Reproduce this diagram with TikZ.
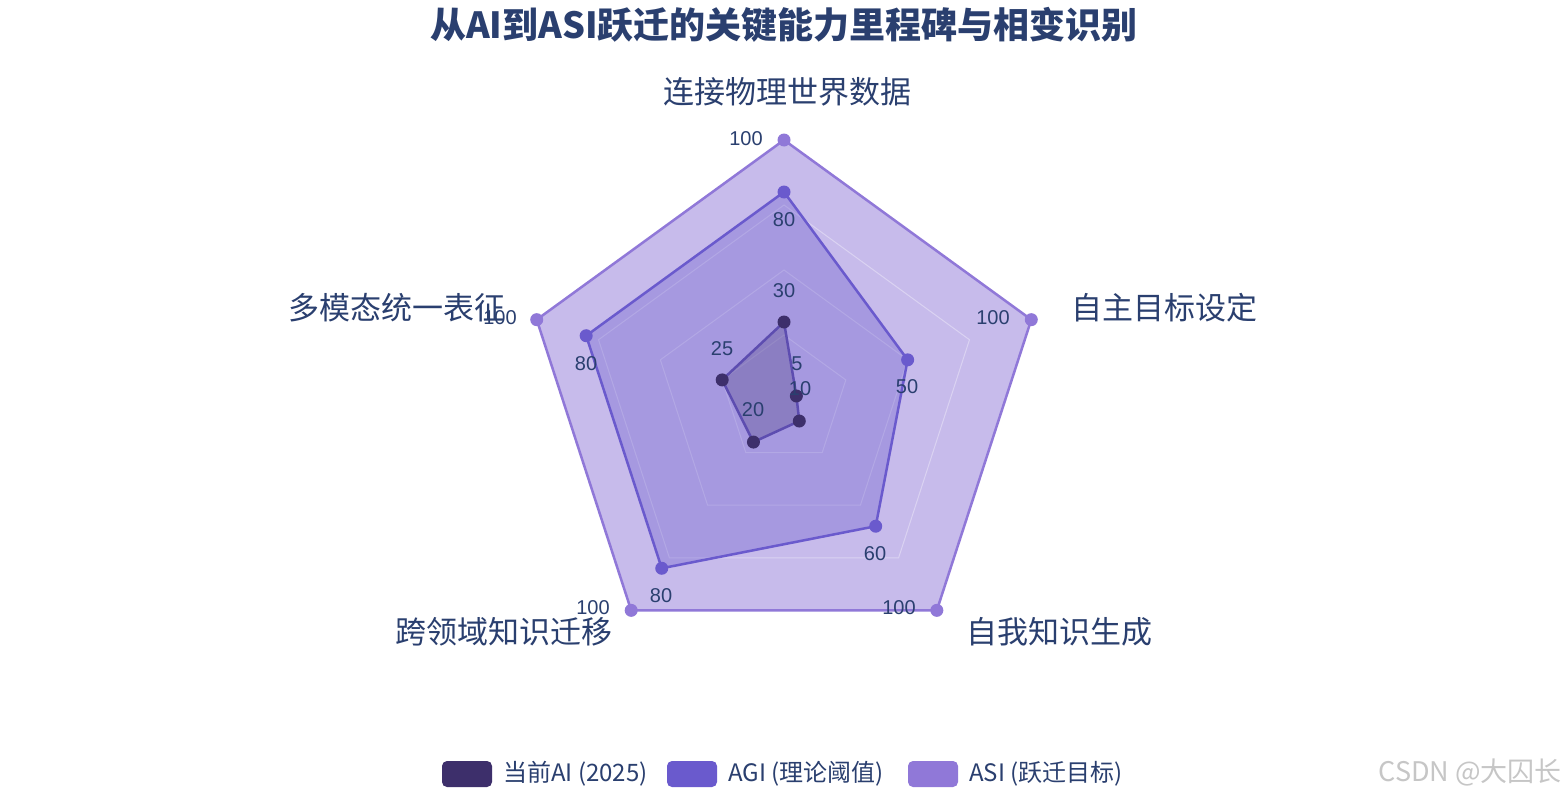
\documentclass[tikz,border=0pt]{standalone}
\usetikzlibrary{calc}
\usepackage{fontspec}
\setmainfont{Liberation Sans}
\newfontfamily\cjk{Noto Sans CJK SC}
\begin{document}
\begin{tikzpicture}[x=1pt,y=1pt]
\definecolor{tc}{HTML}{2A3F6F}
\definecolor{cai}{HTML}{3D2F6B}
\definecolor{cagi}{HTML}{6A5ACD}
\definecolor{casi}{HTML}{9078D8}
\tikzset{num/.style={font=\fontsize{20}{22}\selectfont,text=tc,inner sep=0pt},
ax/.style={font=\cjk\fontsize{31}{34}\selectfont,text=tc,inner sep=0pt},
dot/.style={circle,inner sep=0pt,minimum size=13pt}}
\path[use as bounding box,fill=white](0,0) rectangle (1568,-800);
\coordinate (c) at (784,-400);
\def\R{260}
% ASI
\path[fill=casi,fill opacity=0.5,draw=casi,line width=2.5pt,draw opacity=1]
 ($(c)+(90:\R)$) coordinate(s0) -- ($(c)+(18:\R)$) coordinate(s1) -- ($(c)+(-54:\R)$) coordinate(s2) -- ($(c)+(-126:\R)$) coordinate(s3) -- ($(c)+(162:\R)$) coordinate(s4) -- cycle;
% grid
\foreach \f in {0.25,0.5,0.75}{
 \draw[white,opacity=0.35,line width=1pt] ($(c)+(90:\f*\R)$)--($(c)+(18:\f*\R)$)--($(c)+(-54:\f*\R)$)--($(c)+(-126:\f*\R)$)--($(c)+(162:\f*\R)$)--cycle;}
% AGI
\path[fill=cagi,fill opacity=0.35,draw=cagi,line width=2.5pt,draw opacity=1]
 ($(c)+(90:0.8*\R)$) coordinate(g0) -- ($(c)+(18:0.5*\R)$) coordinate(g1) -- ($(c)+(-54:0.6*\R)$) coordinate(g2) -- ($(c)+(-126:0.8*\R)$) coordinate(g3) -- ($(c)+(162:0.8*\R)$) coordinate(g4) -- cycle;
% AI
\path[fill=cai,fill opacity=0.25,draw=cagi!70!cai,line width=2.5pt,draw opacity=1]
 ($(c)+(90:0.3*\R)$) coordinate(a0) -- ($(c)+(18:0.05*\R)$) coordinate(a1) -- ($(c)+(-54:0.1*\R)$) coordinate(a2) -- ($(c)+(-126:0.2*\R)$) coordinate(a3) -- ($(c)+(162:0.25*\R)$) coordinate(a4) -- cycle;
\foreach \i in {0,...,4}{
 \node[dot,fill=casi] (ps\i) at (s\i) {};
 \node[dot,fill=cagi] (pg\i) at (g\i) {};
 \node[dot,fill=cai] (pa\i) at (a\i) {};}
% value labels
\node[num] at (746,-139) {100};
\node[num] at (993,-318) {100};
\node[num] at (899,-608) {100};
\node[num] at (593,-608) {100};
\node[num] at (500,-318) {100};
\node[num] at (784,-220) {80};
\node[num] at (907,-387) {50};
\node[num] at (875,-554) {60};
\node[num] at (661,-596) {80};
\node[num] at (586,-364) {80};
\node[num] at (784,-291) {30};
\node[num] at (797,-364) {5};
\node[num] at (800,-389) {10};
\node[num] at (753,-410) {20};
\node[num] at (722,-349) {25};
% axis labels
\node[ax] at (787,-92) {连接物理世界数据};
\node[ax,anchor=west] at (1071,-308) {自主目标设定};
\node[ax,anchor=west] at (966,-632) {自我知识生成};
\node[ax,anchor=east] at (613,-632) {跨领域知识迁移};
\node[ax,anchor=east] at (506,-308) {多模态统一表征};
% title
\node[font=\cjk\bfseries\fontsize{36}{40}\selectfont,text=tc] at (784,-25) {从AI到ASI跃迁的关键能力里程碑与相变识别};
% legend
\tikzset{sw/.style={rounded corners=5pt,minimum width=50pt,minimum height=26pt,inner sep=0pt},
lt/.style={font=\cjk\fontsize{24}{26}\selectfont,text=tc,anchor=west,inner sep=0pt}}
\node[sw,fill=cai] (l1) at (467,-774) {};
\node[lt] at (503,-774) {当前AI (2025)};
\node[sw,fill=cagi] (l2) at (692,-774) {};
\node[lt] at (728,-774) {AGI (理论阈值)};
\node[sw,fill=casi] (l3) at (933,-774) {};
\node[lt] at (969,-774) {ASI (跃迁目标)};
\node[font=\cjk\fontsize{27}{29}\selectfont,text=gray!45,anchor=east,inner sep=0pt] at (1562,-772) {CSDN @大囚长};
\end{tikzpicture}
\end{document}
